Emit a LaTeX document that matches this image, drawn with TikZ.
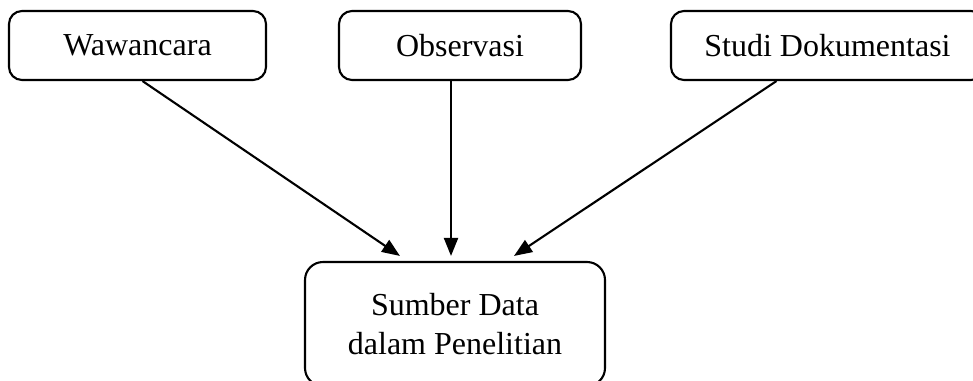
\documentclass[tikz,border=0pt]{standalone}
\usepackage{fontspec}
\setmainfont{Liberation Serif}
\usepackage{tikz}
\usetikzlibrary{arrows.meta,positioning}
\tikzstyle{source}=[draw,rectangle,rounded corners=13pt,inner sep=0pt,minimum height=69pt,font=\fontsize{32pt}{38.5pt}\selectfont]
\tikzstyle{target}=[draw,rectangle,rounded corners=18pt,inner sep=0pt,minimum width=300pt,minimum height=124pt,align=center,font=\fontsize{32pt}{38.5pt}\selectfont]

\begin{document}
\begin{tikzpicture}[x=1pt,y=-1pt,line width=2.1pt,>={Triangle[length=18pt,width=14pt]}]
\clip (0,0) rectangle (973,380);
\draw (137.5, 45.5) node [source, minimum width=257pt] (wawancara) {Wawancara};
\draw (460, 45.5) node [source, minimum width=242pt] (observasi) {Observasi};
\draw (827.5, 45.5) node [source, minimum width=313pt] (studi) {Studi Dokumentasi};
\draw (455, 324) node [target] (sumber) {Sumber Data\\dalam Penelitian};
\draw[->] ([xshift=5pt]wawancara.south) -- ([xshift=-55pt,yshift=5pt]sumber.north);
\draw[->] ([xshift=-9pt]observasi.south) -- ([xshift=-4pt,yshift=5pt]sumber.north);
\draw[->] ([xshift=-51pt]studi.south) -- ([xshift=59pt,yshift=5pt]sumber.north);
\end{tikzpicture}
\end{document}
